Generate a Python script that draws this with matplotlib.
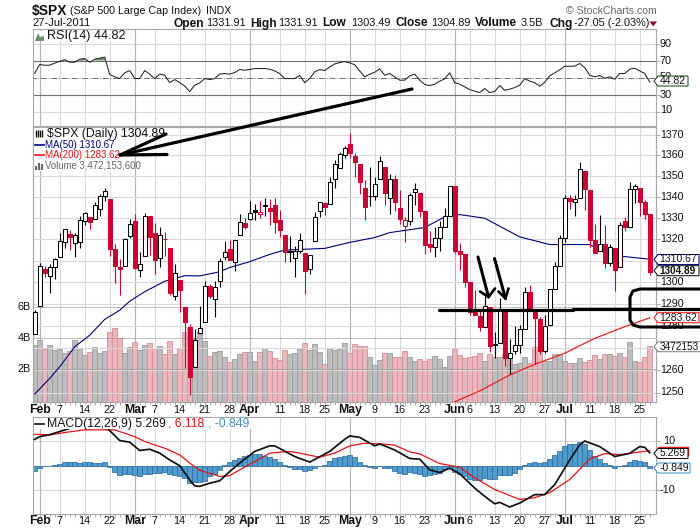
import matplotlib
matplotlib.use('Agg')
import matplotlib.pyplot as plt
import numpy as np

plt.rcParams['font.family'] = ['Liberation Sans', 'DejaVu Sans']

opens = [1276.34, 1289.14, 1305.91, 1302.77, 1307.01, 1311.85, 1318.76, 1322.48, 1318.13, 1318.66,
         1328.73, 1330.43, 1329.51, 1334.37, 1340.38, 1338.91, 1315.44, 1307.09, 1307.34, 1321.61,
         1328.64, 1305.47, 1312.37, 1330.73, 1322.72, 1311.05, 1319.92, 1315.72, 1293.43, 1301.19,
         1288.46, 1279.46, 1261.61, 1276.71, 1281.65, 1298.29, 1292.19, 1300.61, 1311.80, 1315.45,
         1309.37, 1321.89, 1327.44, 1329.48, 1333.56, 1332.03, 1335.94, 1334.82, 1336.16, 1329.01,
         1321.96, 1314.03, 1311.13, 1314.54, 1313.35, 1305.99, 1319.12, 1333.23, 1337.14, 1336.75,
         1348.43, 1353.86, 1360.14, 1365.21, 1359.76, 1355.90, 1344.16, 1340.24, 1340.20, 1348.34,
         1354.51, 1339.39, 1348.69, 1334.77, 1326.10, 1328.54, 1342.40, 1342.00, 1333.07, 1317.70,
         1316.36, 1320.64, 1325.69, 1331.10, 1345.20, 1314.55, 1312.94, 1300.26, 1286.31, 1284.63,
         1279.63, 1288.60, 1271.31, 1272.22, 1287.87, 1265.53, 1268.58, 1271.50, 1278.40, 1295.48,
         1286.60, 1283.04, 1268.44, 1280.21, 1296.85, 1307.64, 1320.64, 1339.59, 1337.56, 1339.62,
         1352.39, 1343.31, 1319.61, 1314.45, 1317.74, 1308.87, 1315.94, 1307.07, 1328.66, 1325.65,
         1343.80, 1344.32, 1337.39, 1331.91]
highs = [1287.17, 1308.86, 1307.61, 1308.60, 1311.00, 1322.85, 1324.87, 1324.54, 1322.78, 1330.79,
         1332.96, 1330.43, 1337.61, 1341.50, 1344.07, 1338.91, 1317.91, 1310.91, 1320.61, 1329.38,
         1332.09, 1314.19, 1332.28, 1331.08, 1327.68, 1325.74, 1323.21, 1315.72, 1308.35, 1301.19,
         1288.46, 1280.91, 1278.68, 1288.88, 1300.58, 1299.35, 1300.51, 1311.34, 1319.18, 1319.74,
         1319.45, 1331.74, 1329.77, 1337.85, 1336.74, 1338.21, 1339.38, 1338.80, 1339.46, 1333.77,
         1321.96, 1321.35, 1316.79, 1322.88, 1313.35, 1312.70, 1332.66, 1337.49, 1337.55, 1349.55,
         1357.49, 1361.71, 1364.56, 1370.58, 1360.84, 1355.90, 1348.00, 1354.36, 1349.44, 1359.44,
         1354.51, 1351.05, 1350.47, 1343.33, 1330.42, 1341.82, 1346.82, 1342.00, 1333.07, 1323.72,
         1325.86, 1328.51, 1334.62, 1345.20, 1345.20, 1318.03, 1312.94, 1300.26, 1296.22, 1287.04,
         1294.54, 1288.60, 1277.04, 1292.50, 1287.87, 1274.11, 1279.82, 1280.42, 1297.62, 1298.61,
         1286.79, 1283.93, 1284.91, 1296.80, 1309.21, 1321.97, 1341.01, 1340.89, 1340.94, 1356.48,
         1352.39, 1343.31, 1327.17, 1331.48, 1326.68, 1317.70, 1315.94, 1328.14, 1330.43, 1347.00,
         1346.10, 1344.32, 1338.51, 1331.91]
lows = [1276.34, 1289.14, 1302.62, 1294.83, 1301.67, 1311.85, 1316.03, 1314.89, 1311.74, 1316.08,
        1326.90, 1324.61, 1329.51, 1331.00, 1338.12, 1312.33, 1299.55, 1294.26, 1307.34, 1320.55,
        1306.14, 1302.58, 1312.37, 1312.59, 1303.99, 1306.86, 1312.27, 1294.21, 1291.99, 1286.37,
        1261.12, 1249.05, 1261.61, 1276.18, 1281.65, 1292.70, 1284.05, 1297.74, 1310.15, 1310.19,
        1305.26, 1321.89, 1325.03, 1328.89, 1329.10, 1330.03, 1331.09, 1326.56, 1322.94, 1321.06,
        1309.51, 1309.19, 1302.42, 1313.68, 1294.70, 1303.97, 1319.12, 1330.42, 1331.47, 1336.75,
        1344.25, 1353.60, 1358.69, 1358.59, 1349.52, 1341.50, 1329.17, 1335.58, 1338.64, 1348.34,
        1336.36, 1332.03, 1333.36, 1327.32, 1318.51, 1326.59, 1336.36, 1330.67, 1312.88, 1313.87,
        1311.80, 1314.41, 1325.69, 1331.10, 1313.71, 1305.61, 1297.90, 1284.72, 1284.74, 1277.42,
        1279.63, 1268.28, 1265.64, 1272.22, 1261.90, 1258.07, 1267.40, 1267.56, 1278.40, 1286.79,
        1262.87, 1267.24, 1267.53, 1280.21, 1296.85, 1307.64, 1318.54, 1334.30, 1330.92, 1339.62,
        1333.71, 1316.42, 1313.33, 1314.45, 1306.51, 1307.52, 1295.92, 1307.07, 1323.65, 1325.65,
        1336.95, 1331.09, 1329.59, 1303.49]
closes = [1286.12, 1307.59, 1304.03, 1307.10, 1310.87, 1319.05, 1324.57, 1320.88, 1321.87, 1329.15,
          1332.32, 1328.01, 1336.32, 1340.43, 1343.01, 1315.44, 1307.40, 1306.10, 1319.88, 1327.22,
          1306.33, 1308.44, 1330.97, 1321.15, 1310.13, 1321.82, 1320.02, 1295.11, 1304.28, 1296.39,
          1281.87, 1256.88, 1273.72, 1279.21, 1298.38, 1293.77, 1297.54, 1309.66, 1313.80, 1310.19,
          1319.44, 1328.26, 1325.83, 1332.41, 1332.87, 1332.63, 1335.54, 1333.51, 1328.17, 1324.46,
          1314.16, 1314.41, 1314.52, 1319.68, 1305.14, 1312.62, 1330.36, 1337.38, 1335.25, 1347.24,
          1355.66, 1360.48, 1363.61, 1361.22, 1356.62, 1347.32, 1335.10, 1340.20, 1346.29, 1357.16,
          1342.08, 1348.65, 1337.77, 1329.47, 1328.98, 1340.68, 1343.60, 1333.27, 1317.37, 1316.28,
          1320.47, 1325.69, 1331.10, 1345.20, 1314.55, 1312.94, 1300.16, 1286.17, 1284.94, 1279.56,
          1289.00, 1270.98, 1271.83, 1287.87, 1265.42, 1267.64, 1271.50, 1278.36, 1295.52, 1287.14,
          1283.50, 1268.45, 1280.10, 1296.67, 1307.41, 1320.64, 1339.67, 1337.88, 1339.22, 1353.22,
          1343.80, 1319.49, 1313.64, 1317.72, 1308.87, 1316.14, 1305.44, 1326.73, 1325.84, 1343.80,
          1345.02, 1337.43, 1331.94, 1304.89]
# volume in billions
volume = [3.55, 3.87, 3.29, 3.55, 3.23, 3.29, 3.05, 3.16, 3.87, 3.37, 2.90, 3.07, 3.42, 3.03, 3.16,
          4.37, 4.62, 3.98, 3.03, 3.42, 3.72, 3.23, 3.55, 3.68, 3.33, 3.46, 2.95, 3.81, 2.95, 3.33,
          4.41, 4.73, 4.00, 4.37, 3.81, 2.82, 3.07, 3.16, 2.77, 2.43, 2.65, 2.95, 3.07, 3.07, 2.52,
          3.07, 3.33, 3.14, 2.69, 2.58, 3.20, 2.95, 3.01, 3.29, 3.65, 3.20, 3.59, 3.07, 2.30, 3.33,
          3.20, 3.29, 3.65, 3.03, 3.59, 3.46, 3.46, 2.77, 2.26, 2.56, 3.01, 3.01, 2.77, 2.77, 3.14,
          2.77, 2.52, 2.65, 2.52, 2.65, 2.82, 2.65, 2.13, 2.82, 3.29, 2.90, 2.71, 2.77, 2.82, 3.05,
          2.52, 2.97, 2.75, 2.80, 2.95, 2.80, 2.30, 2.37, 2.77, 2.37, 3.40, 3.33, 2.52, 2.52, 2.95,
          2.95, 2.52, 2.39, 2.37, 2.71, 2.45, 2.56, 2.90, 2.65, 2.95, 2.95, 2.84, 3.03, 2.77, 3.74,
          2.52, 2.45, 2.77, 3.47]
rsi = [55, 65.3, 64.5, 64.5, 67, 69, 71, 68, 68, 71.5, 72.3, 68, 71.5, 72.7, 74,
       53.5, 50.8, 48.8, 55.5, 58.2, 48.8, 48.8, 58.2, 54, 48.8, 54, 52.7, 44, 47.6, 44,
       40, 33.5, 41, 43.7, 48.8, 47.6, 48.8, 54, 54.7, 54, 55.9, 59.4, 58.6, 59.4, 60.6,
       60.6, 60.6, 59.8, 57.8, 54.7, 48.8, 48.8, 48.8, 52.4, 44, 48.8, 56.7, 59.4, 58.2, 62.5,
       66, 67.6, 68.8, 67.3, 65, 57.8, 50.8, 54, 56.3, 60.2, 52.7, 54.7, 50.8, 46.9, 46.9,
       52, 54, 46.9, 41.8, 40.6, 42.2, 45.7, 48.4, 55.5, 44, 42.2, 39, 35.9, 33.9, 32.4,
       37, 32.4, 33.5, 40.6, 35, 36.3, 38.2, 41, 48.8, 45.7, 44, 39.8, 44.5, 52, 55.5,
       59, 63.3, 63.3, 63.3, 66.5, 61.8, 52.7, 50.8, 52.4, 49.2, 50.8, 48, 54.7, 54.7, 59.8,
       61, 57.8, 54.7, 44.82]
ma50_days = [0, 3, 5, 8, 11, 14, 17, 19, 22, 26, 30, 33, 37, 39, 43, 47, 50, 58, 63, 68, 71, 78,
             82, 85, 90, 97, 103, 111, 115, 123]
ma50 = [1249.3, 1256.3, 1261.5, 1270.5, 1275.7, 1282.9, 1287.1, 1291.2, 1295.6, 1300.4, 1303,
        1302.9, 1304.8, 1306.8, 1309.5, 1312.9, 1314.9, 1315.7, 1318.5, 1320.8, 1323.1, 1325.5,
        1330.5, 1331.6, 1329.9, 1321.1, 1317.5, 1317.5, 1312.6, 1310.67]
ma200_days = [84, 89, 95, 100, 106, 112, 118, 123]
ma200 = [1245.9, 1250.7, 1257.8, 1262.6, 1267.6, 1274.3, 1279.6, 1283.62]
macd_days = [0, 1, 3, 5, 7, 10, 13, 15, 17, 19, 21, 23, 25, 27, 29, 31, 32, 33, 35, 37, 39, 41, 44,
             47, 48, 52, 55, 59, 62, 63, 65, 68, 69, 72, 75, 77, 79, 81, 83, 85, 88, 90, 92, 93,
             95, 97, 100, 102, 104, 107, 109, 110, 113, 116, 119, 121, 122, 123]
macd = [10.8, 11.9, 12.7, 14, 15.3, 17.4, 17.4, 14.4, 10.3, 9.6, 6.2, 6.7, 5.1, 2.3, -0.1, -5.9,
        -8.4, -8.6, -7.3, -6.3, -2.5, 1, 5.8, 8.1, 8.1, 3.7, 1.4, 5.8, 10.8, 12.2, 11.6, 8.1, 8.9,
        6.4, 2.9, 2.6, -1.8, -2.9, -1.1, -3.4, -9.3, -12.7, -15.8, -15.2, -17.1, -15.5, -12, -12,
        -7.9, 2.3, 8.5, 10.1, 7.8, 3.7, 5, 7.8, 7.5, 5.269]
signal_days = [0, 3, 6, 10, 16, 20, 22, 26, 29, 31, 33, 37, 39, 41, 44, 47, 51, 53, 57, 60, 63, 66,
               69, 72, 75, 77, 81, 85, 88, 92, 97, 100, 103, 107, 111, 114, 117, 120, 123]
signal = [12.9, 12.6, 13.6, 14.7, 14.7, 11.9, 9.9, 7.1, 4.4, 1, -2, -4.5, -4.2, -1.8, 1.6, 5.1,
          5.8, 5.1, 3.4, 5.1, 8.1, 9.2, 8.9, 8.4, 5.6, 4.8, 0.8, -0.7, -5.1, -9.9, -14, -13.3,
          -11.2, -5.8, 2.7, 4.9, 4.5, 5.3, 6.118]
hist = [-2.2, -1.1, -.4, -.1, .1, .7, 1.4, 1.5, 1.5, 1.1, 1.4, 1.4, 1, 1.1, 1.5, -.5, -2.7, -4.1,
        -3.7, -3.4, -4, -4.5, -3.7, -3.3, -2.9, -3.1, -2.7, -3.6, -4, -4.2, -5.2, -7.3, -7, -6.8,
        -6.3, -4.5, -3.4, -1.8, .3, 1.5, 2.1, 3, 4, 4.4, 4.8, 4.8, 4, 3.4, 2.6, 1.6, .3, -.7, -1.5,
        -1.5, -2.3, -2, -1, -.1, .4, 1.8, 2.9, 3.4, 4, 4.2, 3.4, 1.6, .3, -.5, -1, -.1, -1, -1,
        -2.3, -3, -3.3, -2.7, -3, -3.3, -4.4, -4.1, -3.7, -3, -1.6, -1, -2.7, -3.3, -4.4, -5.5,
        -5.8, -5.8, -5.2, -5.5, -5.5, -4.1, -3.8, -3.8, -3, -1.6, .1, 1, 1.5, 1.2, 1.5, 2.6, 4.4,
        6, 8.1, 8.9, 8.9, 9.7, 8.9, 6.4, 3.9, 2.7, 1, .1, -1, -.3, .3, 1.5, 2.2, 1.8, 1.4, -.849]

month_days = [1, 20, 43, 63, 84, 106]
month_labels = ['Feb', 'Mar', 'Apr', 'May', 'Jun', 'Jul']
week_days = [5, 10, 15, 24, 29, 34, 39, 49, 54, 58, 68, 73, 78, 87, 92, 97, 102, 111, 116, 121]
week_labels = ['7', '14', '22', '7', '14', '21', '28', '11', '18', '25', '9', '16', '23',
               '6', '13', '20', '27', '11', '18', '25']
price_ticks = list(range(1250, 1380, 10))
price_labels = [1250, 1260, 1280, 1290, 1300, 1320, 1330, 1340, 1350, 1360, 1370]
vol_ticks = [2, 4, 6]
rsi_ticks = [90, 70, 50, 30, 10]
macd_ticks = [-10, 10]

W, H = 700, 530
GRID = '#dadada'
FRAME = '#a8a8a8'
fig = plt.figure(figsize=(W / 100, H / 100), dpi=100, facecolor='white')


def panel(top, bottom):
    a = fig.add_axes([33 / W, 1 - bottom / H, (656 - 33) / W, (bottom - top) / H])
    a.set_xlim(-0.34, 124.26)
    a.set_xticks(np.arange(len(closes)))
    a.tick_params(axis='x', length=2, width=0.6, color='#a0a0a0', labelbottom=False)
    a.tick_params(axis='y', left=False, labelleft=False)
    for s in a.spines.values():
        s.set_color(FRAME)
        s.set_linewidth(0.8)
    a.set_axisbelow(True)
    return a


def date_grid(a):
    a.vlines(week_days, 0, 1, transform=a.get_xaxis_transform(), color=GRID, lw=0.8, zorder=0.5)
    a.vlines(month_days, 0, 1, transform=a.get_xaxis_transform(), color='#b4b4b4', lw=0.85, zorder=0.6)


days = np.arange(len(closes))
o, h, l, c = map(np.array, (opens, highs, lows, closes))
prev = np.r_[c[0] - 1, c[:-1]]
up = c >= prev
body_color = np.where(up, 'black', '#cc0033')

# rsi
ax_rsi = panel(29.5, 126)
ax_rsi.set_ylim(-7, 106.5)
date_grid(ax_rsi)
ax_rsi.tick_params(axis='x', bottom=False)
ax_rsi.hlines([90, 10], -1, 125, color=GRID, lw=0.8, zorder=0.5)
ax_rsi.hlines([70, 30], -1, 125, color='#707070', lw=0.8, zorder=1)
ax_rsi.hlines(50, -1, 125, color='#707070', lw=0.7, ls='-.', zorder=1)
ax_rsi.fill_between(days, 70, rsi, where=np.array(rsi) > 70, color='#6f8f6f', lw=0, zorder=1.5)
ax_rsi.plot(days, rsi, color='#222222', lw=0.75, zorder=2)
ax_rsi.set_yticks(rsi_ticks)
ax_rsi.tick_params(axis='y', right=True, length=3, width=0.6, color='#a0a0a0', labelright=False)

# volume under price
ax_vol = panel(127, 402)
ax_vol.set_ylim(-2 / 15.5, 273 / 15.5)
date_grid(ax_vol)
ax_vol.hlines(vol_ticks, -1, 125, color='#8a8a8a', lw=0.7, alpha=0.55, zorder=3)
ax_vol.bar(days, np.array(volume) + 2 / 15.5, bottom=-2 / 15.5, width=1.0,
           color=np.where(up, '#bdbdbd', '#e8b8be'),
           edgecolor=np.where(up, '#a0a0a0', '#dc9098'), lw=0.65, zorder=2)

# price
ax = fig.add_axes(ax_vol.get_position(), sharex=ax_vol)
ax.patch.set_alpha(0)
ax.set_yscale('log')
ax.set_ylim(1245.8, 1373.7)
ax.minorticks_off()
ax.set_yticks(price_ticks)
ax.tick_params(axis='y', which='both', left=False, labelleft=False, right=True, labelright=False,
               length=3, width=0.6, color='#a0a0a0')
ax.tick_params(axis='x', bottom=False, labelbottom=False)
ax.hlines(price_ticks, -1, 125, color=GRID, lw=0.8, zorder=0.5)
for s in ax.spines.values():
    s.set_color(FRAME)
    s.set_linewidth(0.8)
ax.plot(ma50_days, ma50, color='#000080', lw=0.8, zorder=3)
ax.plot(ma200_days, ma200, color='#ee2222', lw=0.9, zorder=3)
ax.vlines(days, l, h, color=body_color, lw=0.8, zorder=4)
hollow = c >= o
ax.bar(days, np.abs(c - o), bottom=np.minimum(o, c), width=0.8,
       color=np.where(hollow, 'white', body_color), edgecolor=body_color, lw=0.75, zorder=5)

# macd
ax_macd = panel(417, 514)
ax_macd.set_ylim(-20, 20)
date_grid(ax_macd)
ax_macd.hlines([10, -10, 0], -1, 125, color=GRID, lw=0.8, zorder=0.5)
ax_macd.bar(days, hist, width=1.0, color='#4f9ccb', edgecolor='#2d6ea3', lw=0.55, zorder=2)
ax_macd.plot(signal_days, signal, color='#ee1111', lw=0.9, zorder=3)
ax_macd.plot(macd_days, macd, color='#111111', lw=1.25, zorder=4)
ax_macd.set_yticks(macd_ticks)
ax_macd.tick_params(axis='y', right=True, length=3, width=0.6, color='#a0a0a0', labelright=False)

# everything placed in pixels of the picture goes on this layer
ov = fig.add_axes([0, 0, 1, 1], zorder=10)
ov.set_xlim(0, W)
ov.set_ylim(H, 0)
ov.axis('off')
ov.patch.set_alpha(0)


def txt(x, y, s, size=8.0, color='#111111', ha='left', weight='normal', **kw):
    return ov.text(x, y, s, fontsize=size, color=color, ha=ha, va='center', fontweight=weight, **kw)


def white_box(x0, y0, x1, y1):
    ov.fill([x0, x1, x1, x0], [y0, y0, y1, y1], color='white', lw=0, zorder=1)


def tag(y, s, edge, right=699, weight='normal', size=7.5):
    ov.fill([654, 658, right, right, 658], [y, y - 5, y - 5, y + 5, y + 5],
            facecolor='white', edgecolor=edge, lw=0.75, zorder=4)
    txt(659.5, y, s, weight=weight, size=size, zorder=5)


# header
txt(32, 10.5, '$SPX', size=10, weight='bold')
txt(70, 10.5, '(S&P 500 Large Cap Index)', size=7.7)
txt(206, 10.5, 'INDX', size=7.6)
txt(32, 23.5, '27-Jul-2011', size=8.0)
for x, s, w in [(174, 'Open', 'bold'), (206, '1331.91', 'normal'), (250, 'High', 'bold'),
                (278, '1331.91', 'normal'), (322, 'Low', 'bold'), (351, '1303.49', 'normal'),
                (395, 'Close', 'bold'), (431, '1304.89', 'normal'), (475, 'Volume', 'bold'),
                (521, '3.5B', 'normal'), (549, 'Chg', 'bold'), (574, '-27.05 (-2.03%)', 'normal')]:
    txt(x, 23.5, s, size=8.6 if w == 'bold' else 7.8, weight=w)
ov.fill([649.5, 657, 653.2], [21.5, 21.5, 26.5], color='#8b0a2a', lw=0)
txt(566, 10.5, '\u00a9 StockCharts.com', size=7.6, color='#666666')

# legends
white_box(34, 30.5, 128, 41)
ov.fill([35, 38, 40, 44, 44, 35], [41, 33, 37, 36, 41, 41], color='#6f8f6f', lw=0, zorder=2)
txt(47, 36, 'RSI(14) 44.82', size=9.1, zorder=3)
white_box(34, 128, 120, 171)
ov.vlines([36, 38, 40, 42], 130, 137, color='#111111', lw=1.0, zorder=2)
txt(47, 133.5, '$SPX (Daily) 1304.89', size=8.8, zorder=3)
ov.plot([35, 44], [144.5, 144.5], color='#000080', lw=1.2, zorder=2)
txt(45, 144.5, 'MA(50) 1310.67', color='#000080', size=7.0, zorder=3)
ov.plot([35, 44], [155, 155], color='#ee1111', lw=1.2, zorder=2)
txt(45, 155, 'MA(200) 1283.62', color='#ee1111', size=7.0, zorder=3)
ov.vlines([36, 39, 42], [166, 163, 164], 170, color='#666666', lw=1.5, zorder=2)
txt(45, 165.5, 'Volume 3,472,153,600', color='#666666', size=6.9, zorder=3)
white_box(34, 418, 255, 429)
ov.plot([35, 44], [424, 424], color='#111111', lw=1.2, zorder=2)
txt(47, 424, 'MACD(12,26,9) 5.269', size=8.8, zorder=3)
txt(168, 424, ', 6.118', size=8.8, color='#ee1111', zorder=3)
txt(208, 424, ', -0.849', size=8.8, color='#3d94c8', zorder=3)

# axis labels
for v, y in zip(rsi_ticks, [44, 60.5, 77, 94.5, 110]):
    txt(660, y, str(v), size=7.8)
for p in price_labels:
    y = 134.5 + np.log(1370 / p) * 2814
    txt(660, y, str(p), size=7.7)
for b, y in zip(vol_ticks, [369, 338, 307]):
    txt(31, y, '%dB' % b, ha='right', size=7.8)
txt(663, 441.3, str(macd_ticks[1]), size=7.8)
txt(660, 490, str(macd_ticks[0]), size=7.8)
for ytext in (410, 521):
    for d, s in zip(week_days, week_labels):
        txt(34.7 + 5 * d, ytext, s, ha='center', size=7.8)
    for d, s in zip(month_days, month_labels):
        txt(34.7 + 5 * d, ytext, s, ha='center', size=8.8, weight='bold')

# value tags on the right edge
tag(81, '44.82', '#0f4f1f', right=688)
tag(259.5, '1310.67', '#000080')
tag(270.7, '1304.89', '#111111', weight='bold', size=7.2)
tag(317.7, '1283.62', '#ee1111')
tag(346.7, '3472153', '#808080', right=705, size=7.2)
ov.fill([658, 688, 688, 658], [447, 447, 455, 455], facecolor='white', edgecolor='#ee1111', lw=1.0, zorder=3)
tag(453.5, '5.269', '#111111', right=688)
tag(468, '-0.849', '#3d94c8', right=690)

# hand drawn marks
pen = dict(color='black', solid_capstyle='round', solid_joinstyle='round', zorder=8)
ov.plot([412, 120], [89, 155], lw=2.3, **pen)
ov.plot([166, 120, 167], [134, 155, 154.5], lw=2.3, **pen)
ov.plot([439, 573], [309.5, 309.5], lw=2.3, **pen)
ov.plot([573, 700], [308.5, 308.5], lw=2.3, **pen)
ov.plot([700, 640, 633, 630, 630, 633, 640, 700], [289, 289, 291, 297, 320, 325, 327, 327], lw=2.2, **pen)
ov.plot([478, 488.5], [257, 297], lw=2.2, **pen)
ov.plot([480, 488.5, 495], [291.5, 297, 288.5], lw=1.9, **pen)
ov.plot([494.5, 505.5], [258.5, 298.5], lw=2.2, **pen)
ov.plot([498.5, 505.5, 508.5], [291.5, 298.5, 288.5], lw=1.9, **pen)

fig.savefig('out.png', dpi=100)
